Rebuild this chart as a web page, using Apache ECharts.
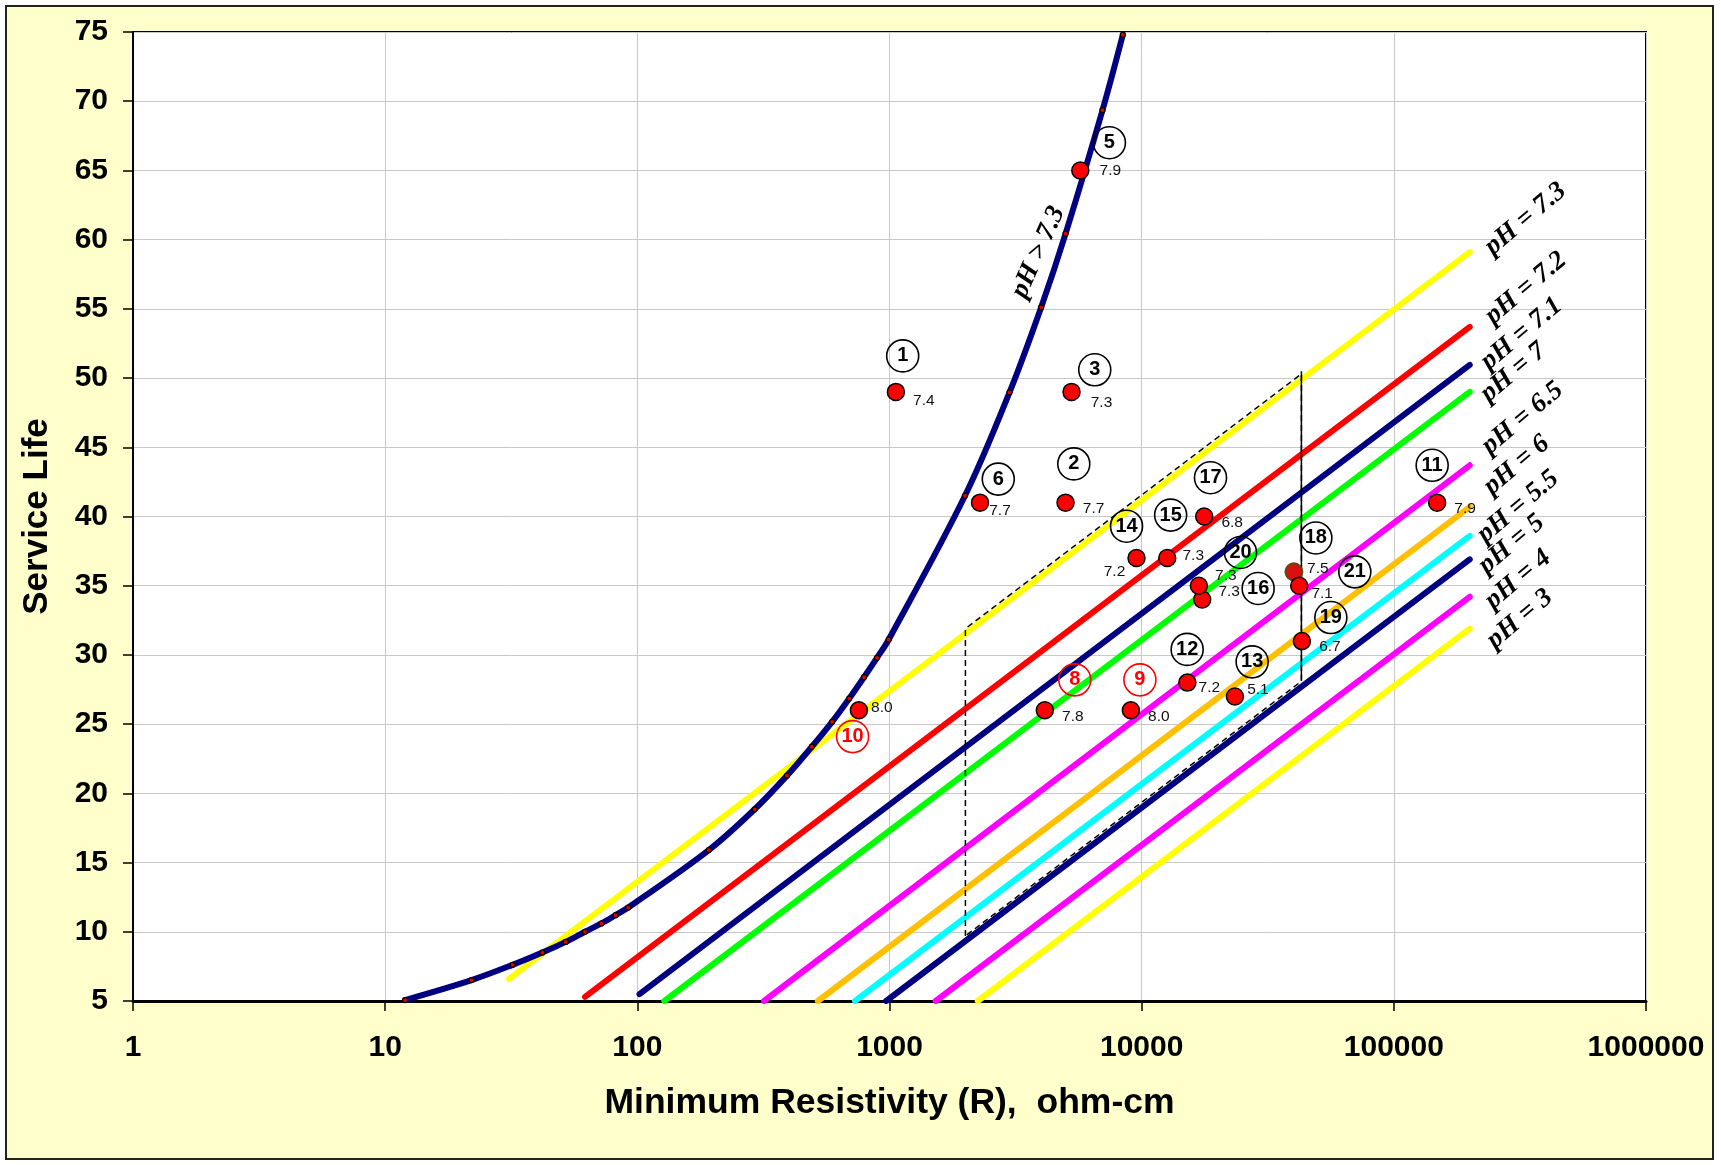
<!DOCTYPE html>
<html>
<head>
<meta charset="utf-8">
<title>Service Life vs Minimum Resistivity</title>
<script src="https://cdn.jsdelivr.net/npm/echarts@6/dist/echarts.min.js"></script>
<style>
  html, body { margin: 0; padding: 0; background: #fff; }
  #chart { position: absolute; left: 5px; top: 5px; width: 1705px; height: 1151px; border: 2px solid #222; background: #FFFFCC; }
</style>
</head>
<body>
<div id="chart"></div>
<script>
// pH > 7.3 curve (marker points)
const curveR = [12, 22, 32, 42, 52, 62, 72, 82, 92, 192, 292, 392, 492, 592, 692, 792, 892, 992, 1992, 2992, 3992, 4992, 6992, 8420];
const curveY = [5.07, 6.51, 7.61, 8.5, 9.27, 10.0, 10.6, 11.2, 11.75, 15.9, 18.85, 21.28, 23.37, 25.17, 26.85, 28.39, 29.79, 31.1, 41.5, 48.97, 55.1, 60.43, 69.35, 74.8];

// straight pH lines: start and end points
const lineNames = ['pH = 7.3', 'pH = 7.2', 'pH = 7.1', 'pH = 7', 'pH = 6.5', 'pH = 6', 'pH = 5.5', 'pH = 5', 'pH = 4', 'pH = 3'];
const lineStartR = [31, 62, 102, 128, 318, 520, 730, 970, 1525, 2240];
const lineStartY = [6.6, 5.3, 5.5, 5, 5, 5, 5, 5, 5, 5];
const lineEndR = [200000, 200000, 200000, 200000, 200000, 200000, 200000, 200000, 200000, 200000];
const lineEndY = [59.1, 53.7, 50.95, 49.0, 43.7, 40.7, 38.6, 36.9, 34.2, 31.9];

// dashed outline between R = 2000 and R = 43000
const boxR = [2000, 2000, 43000, 43000, 2000];
const boxY = [9.7, 31.9, 50.3, 28.1, 9.7];
const markR = [43000, 43000];
const markY = [50.5, 28.2];

// field samples
const sampleNo = [1, 2, 3, 5, 6, 8, 9, 10, 11, 12, 13, 14, 15, 16, 17, 18, 19, 20, 21];
const sampleR = [1060, 4990, 5270, 5710, 2285, 4130, 9060, 756, 148500, 15180, 23430, 9540, 12630, 17380, 17700, 40150, 43200, 16860, 42150];
const sampleY = [49, 41, 49, 65, 41, 26, 26, 26, 41, 28, 27, 37, 37, 34, 40, 36, 31, 35, 35];
const samplePH = ['7.4', '7.7', '7.3', '7.9', '7.7', '7.8', '8.0', '8.0', '7.9', '7.2', '5.1', '7.2', '7.3', '7.3', '6.8', '7.5', '6.7', '7.3', '7.1'];
// where the circled sample numbers sit
const tagR = [1128, 5380, 6515, 7450, 2700, 5430, 9840, 714, 141900, 15150, 27420, 8710, 13030, 28970, 18750, 49070, 56270, 24660, 70020];
const tagY = [51.6, 43.8, 50.6, 67.0, 42.7, 28.2, 28.2, 24.1, 43.7, 30.4, 29.5, 39.3, 40.1, 34.8, 42.8, 38.45, 32.7, 37.4, 36.0];

const yTicks = [5, 75, 5]; // min, max, step

const lineColors = ['#FFFF00', '#FF0000', '#000080', '#00FF00', '#FF00FF', '#FFC000', '#00FFFF', '#000080', '#FF00FF', '#FFFF00'];
const sansFont = 'Liberation Sans, Arial, sans-serif';
const serifFont = 'Liberation Serif, Times New Roman, serif';

// label placement tweaks (pixel offsets of the pH text from its dot)
const phOffset = {1: [28, 9], 3: [30, 11], 5: [30, 0], 6: [20, 8], 10: [23, -3], 12: [22, 5], 13: [23, -7],
                  14: [-22, 14], 15: [26, -2], 16: [27, -8], 18: [24, -3], 20: [27, -10], 21: [23, 8]};
const redTags = [8, 9, 10];
// anchors (data units) for the rotated pH names
const nameAnchorR = [333000, 334000, 321000, 298000, 324000, 307000, 311000, 293000, 311000, 316000];
const nameAnchorY = [61.5, 56.5, 53.2, 50.4, 47.1, 43.7, 40.7, 38.0, 35.45, 32.6];

const pairs = (xs, ys) => xs.map((x, i) => [x, ys[i]]);

const chart = echarts.init(document.getElementById('chart'));

const series = [];
lineNames.forEach((name, i) => {
    series.push({
        name: name,
        type: 'line',
        data: [[lineStartR[i], lineStartY[i]], [lineEndR[i], lineEndY[i]]],
        symbol: 'none',
        lineStyle: { color: lineColors[i], width: 6, cap: 'round' },
        z: 2
    });
});
series.push({
    name: 'pH > 7.3',
    type: 'line',
    data: pairs(curveR, curveY),
    smooth: 0.35,
    symbol: 'circle',
    symbolSize: 5,
    showAllSymbol: true,
    lineStyle: { color: '#000080', width: 6, cap: 'round' },
    itemStyle: { color: '#E00000', borderColor: '#000', borderWidth: 1.2 },
    z: 3
});
series.push({
    type: 'line',
    data: pairs(boxR, boxY),
    symbol: 'none',
    lineStyle: { color: '#000', width: 1.5, type: [6, 4] },
    z: 4
});
series.push({
    type: 'line',
    data: pairs(markR, markY),
    symbol: 'none',
    lineStyle: { color: '#000', width: 1.5 },
    z: 4
});
series.push({
    type: 'scatter',
    data: sampleNo.map((n, i) => ({
        value: [sampleR[i], sampleY[i]],
        itemStyle: n === 18 ? { color: '#D81010', borderColor: '#5C4A12', borderWidth: 2 } : undefined,
        label: { formatter: samplePH[i], offset: phOffset[n] || [28, 6] }
    })),
    symbol: 'circle',
    symbolSize: 17,
    itemStyle: { color: '#FF0000', borderColor: '#000', borderWidth: 1.5, opacity: 1 },
    label: { show: true, position: 'inside', fontSize: 15.5, color: '#111', fontFamily: sansFont, textBorderWidth: 0 },
    z: 6
});
series.push({
    type: 'scatter',
    data: sampleNo.map((n, i) => {
        const c = redTags.includes(n) ? '#FF0000' : '#000';
        return {
            value: [tagR[i], tagY[i]],
            itemStyle: { borderColor: c },
            label: { formatter: String(n), color: c }
        };
    }),
    symbol: 'circle',
    symbolSize: 32,
    itemStyle: { color: 'rgba(255,255,255,0)', borderWidth: 1.6, opacity: 1 },
    label: { show: true, position: 'inside', fontSize: 20, fontWeight: 'bold', fontFamily: sansFont, textBorderWidth: 0 },
    z: 7
});
const nameStyle = { show: true, position: 'inside', fontSize: 27, fontWeight: 'bold', fontStyle: 'italic', fontFamily: serifFont, color: '#000', textBorderWidth: 0 };
series.push({
    type: 'scatter',
    data: lineNames.map((name, i) => ({ value: [nameAnchorR[i], nameAnchorY[i]], label: { formatter: name } })),
    symbolSize: 1,
    itemStyle: { color: 'rgba(0,0,0,0)', opacity: 1 },
    label: Object.assign({ rotate: 40 }, nameStyle),
    z: 8
});
series.push({
    type: 'scatter',
    data: [{ value: [3892, 59.1], label: { formatter: 'pH > 7.3' } }],
    symbolSize: 1,
    itemStyle: { color: 'rgba(0,0,0,0)', opacity: 1 },
    label: Object.assign({ rotate: 66 }, nameStyle),
    z: 8
});

const option = {
    animation: false,
    backgroundColor: '#FFFFCC',
    grid: {
        left: 126, right: 66, top: 25, bottom: 157,
        show: true, backgroundColor: '#fff', borderColor: '#000', borderWidth: 2
    },
    xAxis: {
        type: 'log',
        logBase: 10,
        min: 1,
        max: 1000000,
        name: 'Minimum Resistivity (R),  ohm-cm',
        nameLocation: 'middle',
        nameGap: 84,
        nameTextStyle: { fontSize: 35.5, fontWeight: 'bold', fontFamily: sansFont, color: '#000' },
        axisLine: { lineStyle: { color: '#000', width: 3 } },
        axisTick: { length: 10, lineStyle: { color: '#000', width: 1.5 } },
        axisLabel: {
            margin: 32, fontSize: 30, fontWeight: 'bold', fontFamily: sansFont, color: '#000',
            formatter: v => String(Math.round(v))
        },
        splitLine: { show: true, lineStyle: { color: '#C8C8C8', width: 1 } }
    },
    yAxis: {
        type: 'value',
        min: yTicks[0],
        max: yTicks[1],
        interval: yTicks[2],
        name: 'Service Life',
        nameLocation: 'middle',
        nameGap: 78,
        nameTextStyle: { fontSize: 35, fontWeight: 'bold', fontFamily: sansFont, color: '#000' },
        axisLine: { show: true, lineStyle: { color: '#000', width: 2 } },
        axisTick: { show: true, length: 10, lineStyle: { color: '#000', width: 1.5 } },
        axisLabel: { margin: 25, fontSize: 30, fontWeight: 'bold', fontFamily: sansFont, color: '#000' },
        splitLine: { show: true, lineStyle: { color: '#C8C8C8', width: 1 } }
    },
    series: series
};
chart.setOption(option);
window.addEventListener('resize', () => {
    chart.resize();
});
</script>
</body>
</html>
